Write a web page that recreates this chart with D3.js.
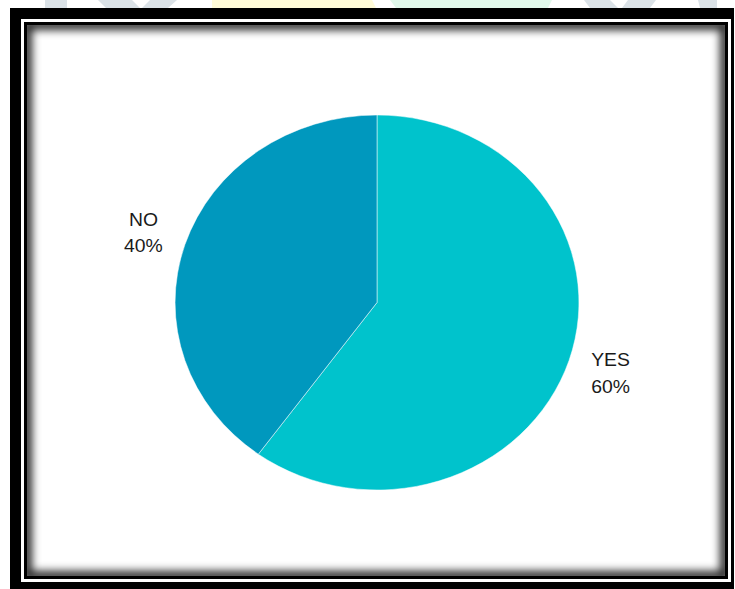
<!DOCTYPE html>
<html>
<head>
<meta charset="utf-8">
<script src="https://cdn.jsdelivr.net/npm/d3@7"></script>
<style>
  html, body { margin: 0; padding: 0; background: #fff; }
  svg { display: block; }
</style>
</head>
<body>
<svg id="chart" width="735" height="589"></svg>
<script>
// Survey answers and their shares (percent)
const categories = ["YES", "NO"];
const values = [60, 40];
const colors = ["#00C3CC", "#0098BE"];

const W = 735, H = 589;
const svg = d3.select("#chart");

// Faint logo shapes peeking out above the frame
const faint = [
  { pts: [[45, 0], [67, 0], [67, 8], [45, 8]], fill: "#dbe2e7" },
  { pts: [[98, 0], [132, 0], [140, 8], [106, 8]], fill: "#dbe2e7" },
  { pts: [[150, 0], [177, 0], [168, 8], [142, 8]], fill: "#dbe2e7" },
  { pts: [[212, 0], [372, 0], [376, 8], [212, 8]], fill: "#fffbd8" },
  { pts: [[390, 0], [552, 0], [548, 8], [396, 8]], fill: "#e1f8eb" },
  { pts: [[584, 0], [610, 0], [618, 8], [590, 8]], fill: "#dbe2e7" },
  { pts: [[628, 0], [656, 0], [650, 8], [622, 8]], fill: "#dbe2e7" },
  { pts: [[698, 0], [717, 0], [717, 8], [700, 8]], fill: "#dbe2e7" }
];
svg.append("g").selectAll("polygon").data(faint).join("polygon")
  .attr("points", d => d.pts.map(p => p.join(",")).join(" "))
  .attr("fill", d => d.fill);

// Double black frame
svg.append("rect").attr("x", 10).attr("y", 8).attr("width", 724).attr("height", H).attr("fill", "#000");
svg.append("rect").attr("x", 21).attr("y", 19).attr("width", 710).attr("height", 563).attr("fill", "#fff");
svg.append("rect").attr("x", 24).attr("y", 22).attr("width", 704).attr("height", 557).attr("fill", "#000");

const panel = { x: 27, y: 25, w: 698, h: 551 };
const defs = svg.append("defs");
defs.append("clipPath").attr("id", "panelClip")
  .append("rect").attr("x", panel.x).attr("y", panel.y).attr("width", panel.w).attr("height", panel.h);
defs.append("filter").attr("id", "soft").attr("x", "-10%").attr("y", "-10%").attr("width", "120%").attr("height", "120%")
  .append("feGaussianBlur").attr("stdDeviation", 4);

svg.append("rect").attr("x", panel.x).attr("y", panel.y).attr("width", panel.w).attr("height", panel.h).attr("fill", "#fff");
// Inner shadow along the panel edge
svg.append("g").attr("clip-path", "url(#panelClip)")
  .append("rect")
  .attr("x", panel.x).attr("y", panel.y).attr("width", panel.w).attr("height", panel.h)
  .attr("fill", "none").attr("stroke", "#000").attr("stroke-width", 10).attr("stroke-opacity", 0.85)
  .attr("filter", "url(#soft)");

// Pie (drawn circular, then widened horizontally)
const cx = 377, cy = 302.5, r = 187.5, sx = 1.077;
const g = svg.append("g").attr("transform", `translate(${cx},${cy}) scale(${sx},1)`);

const data = categories.map((c, i) => ({ cat: c, val: values[i], color: colors[i] }));
const pie = d3.pie().value(d => d.val).sort(null);
const arc = d3.arc().innerRadius(0).outerRadius(r);
const labelArc = d3.arc().innerRadius(r * 1.216).outerRadius(r * 1.216);
const arcs = pie(data);

g.selectAll("path").data(arcs).join("path")
  .attr("d", arc)
  .attr("fill", d => d.data.color)
  .attr("stroke", "rgba(255,255,255,0.6)")
  .attr("stroke-width", 0.8);

const lbl = g.selectAll("text").data(arcs).join("text")
  .attr("transform", d => { const [x, y] = labelArc.centroid(d); return `translate(${x},${y})`; })
  .attr("text-anchor", "middle")
  .style("font-family", "'Liberation Sans', Arial, sans-serif")
  .style("font-size", "18px")
  .attr("fill", "#1a1a1a");
lbl.append("tspan").attr("x", 0).attr("y", -6.5).text(d => d.data.cat);
lbl.append("tspan").attr("x", 0).attr("y", 20).text(d => d.data.val + "%");
</script>
</body>
</html>
